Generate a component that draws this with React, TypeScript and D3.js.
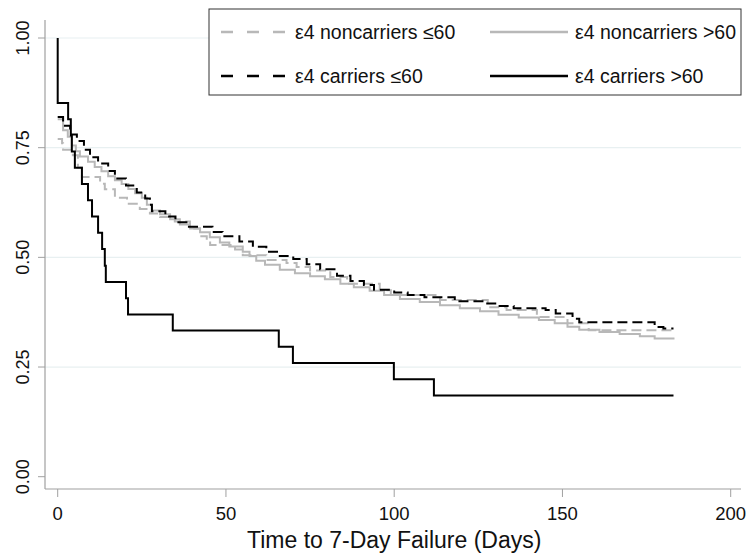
import * as d3 from "d3";
import React from "react";

// Kaplan-Meier steps: time (days) and survival
const carrOldT = [0, 0, 3.1, 3.9, 4.2, 5.1, 7.2, 9.0, 10.2, 12.0, 13.2, 14.0, 14.3, 20.3, 20.9, 34.2, 65.7, 69.9, 99.9, 111.8, 183];
const carrOldS = [1.0, 0.852, 0.815, 0.778, 0.741, 0.704, 0.667, 0.63, 0.593, 0.556, 0.519, 0.481, 0.444, 0.407, 0.37, 0.333, 0.296, 0.259, 0.222, 0.185, 0.185];

const carrYoungT = [0, 1.6, 3.7, 5.7, 7.8, 9.6, 12, 15, 17, 20.3, 23.5, 26, 27.4, 28, 32, 35, 39, 46, 49, 54, 58, 62, 66, 70, 74, 78, 83, 87, 91, 94, 100, 104, 109, 118, 127, 131, 135.5, 145, 148, 153, 155, 177.4, 180, 183];
const carrYoungS = [0.82, 0.8, 0.78, 0.765, 0.745, 0.728, 0.714, 0.697, 0.68, 0.664, 0.648, 0.634, 0.62, 0.605, 0.593, 0.58, 0.57, 0.558, 0.548, 0.536, 0.524, 0.513, 0.503, 0.496, 0.484, 0.473, 0.458, 0.446, 0.437, 0.426, 0.42, 0.414, 0.409, 0.4, 0.395, 0.389, 0.384, 0.38, 0.372, 0.36, 0.352, 0.341, 0.338, 0.338];

const nonOldT = [0, 1.6, 3, 4.2, 5.4, 6.6, 9, 11, 13, 15, 17, 19, 21, 23, 25, 26.5, 28, 30.4, 33.4, 36.3, 39.3, 42.3, 45.2, 48.2, 51, 55, 57, 59, 61.6, 66, 70.5, 75, 79.4, 84, 88, 92.7, 97, 101.7, 107.6, 113.6, 119.5, 125.5, 131, 137, 143, 147.7, 151.5, 155, 161, 167, 173, 177.4, 183];
const nonOldS = [0.815, 0.79, 0.775, 0.755, 0.742, 0.73, 0.718, 0.706, 0.696, 0.685, 0.676, 0.667, 0.656, 0.646, 0.636, 0.62, 0.607, 0.598, 0.587, 0.575, 0.566, 0.557, 0.546, 0.534, 0.525, 0.513, 0.503, 0.492, 0.483, 0.472, 0.464, 0.457, 0.45, 0.44, 0.432, 0.424, 0.414, 0.405, 0.398, 0.391, 0.384, 0.377, 0.369, 0.363, 0.357, 0.35, 0.342, 0.335, 0.33, 0.325, 0.32, 0.315, 0.313];

const nonYoungT = [0, 1.3, 1.6, 4.5, 6, 7.2, 12.6, 14, 17, 20.6, 24.4, 27.4, 30.4, 34.8, 39.3, 42.3, 44.3, 45.3, 52.7, 55, 62, 68, 71, 75, 81, 86, 95.7, 99, 113.6, 127.8, 133.4, 142.4, 151.5, 157.8, 183];
const nonYoungS = [0.77, 0.76, 0.745, 0.733, 0.705, 0.683, 0.668, 0.655, 0.636, 0.622, 0.61, 0.6, 0.592, 0.582, 0.566, 0.548, 0.538, 0.528, 0.518, 0.505, 0.494, 0.487, 0.478, 0.47, 0.455, 0.44, 0.425, 0.414, 0.403, 0.386, 0.38, 0.364, 0.35, 0.334, 0.332];

const xTicks = [0, 50, 100, 150, 200];
const yTicks = [0, 0.25, 0.5, 0.75, 1];
const gridTicks = [0.25, 0.5, 0.75, 1];

const GRAY = "#b8b8b8";
const FONT = "'Liberation Sans', Arial, Helvetica, sans-serif";

const series = [
  { t: nonYoungT, s: nonYoungS, color: GRAY, dash: "10,5", label: "ε4 noncarriers ≤60" },
  { t: nonOldT, s: nonOldS, color: GRAY, dash: "none", label: "ε4 noncarriers >60" },
  { t: carrYoungT, s: carrYoungS, color: "#000", dash: "10,5", label: "ε4 carriers ≤60" },
  { t: carrOldT, s: carrOldS, color: "#000", dash: "none", label: "ε4 carriers >60" },
];

export default function App() {
  const width = 747;
  const height = 555;

  const x = d3.scaleLinear().domain([0, 200]).range([57.7, 730.7]);
  const y = d3.scaleLinear().domain([0, 1]).range([476.7, 38]);

  const line = d3
    .line<[number, number]>()
    .x(d => x(d[0]))
    .y(d => y(d[1]))
    .curve(d3.curveStepAfter);

  const axisLeft = 45;
  const axisBottom = 489;
  const plotRight = 741;

  // legend layout
  const legend = { x0: 209, y0: 9, x1: 741, y1: 95 };
  const rows = [32, 76];
  const cols = [{ l0: 221, l1: 291, tx: 295 }, { l0: 490, l1: 568, tx: 575 }];

  return (
    <svg width={width} height={height} style={{ position: "absolute", left: 0, top: 0, background: "#fff" }}>
      <rect x={0} y={0} width={width} height={height} fill="#fff" />
      {gridTicks.map(v => (
        <line key={v} x1={axisLeft} x2={plotRight} y1={y(v)} y2={y(v)} stroke="#e8f0f1" strokeWidth={1.2} />
      ))}

      {/* axes */}
      <line x1={axisLeft} x2={axisLeft} y1={20} y2={axisBottom} stroke="#a0a0a0" strokeWidth={1.2} />
      <line x1={axisLeft} x2={plotRight} y1={axisBottom} y2={axisBottom} stroke="#a0a0a0" strokeWidth={1.2} />
      {yTicks.map(v => (
        <g key={v}>
          <line x1={38} x2={axisLeft} y1={y(v)} y2={y(v)} stroke="#a0a0a0" strokeWidth={1} />
          <text
            transform={`translate(29,${y(v)}) rotate(-90)`}
            textAnchor="middle"
            fontFamily={FONT}
            fontSize={18}
            fill="#111"
          >
            {d3.format(".2f")(v)}
          </text>
        </g>
      ))}
      {xTicks.map(v => (
        <g key={v}>
          <line x1={x(v)} x2={x(v)} y1={axisBottom} y2={497} stroke="#a0a0a0" strokeWidth={1} />
          <text x={x(v)} y={520} textAnchor="middle" fontFamily={FONT} fontSize={18.5} fill="#111">
            {v}
          </text>
        </g>
      ))}
      <text x={x(100)} y={548} textAnchor="middle" fontFamily={FONT} fontSize={23} fill="#111">
        Time to 7-Day Failure (Days)
      </text>

      {/* curves */}
      {series.map(sr => (
        <path
          key={sr.label}
          d={line(sr.t.map((t, i) => [t, sr.s[i]] as [number, number])) ?? ""}
          fill="none"
          stroke={sr.color}
          strokeWidth={2}
          strokeDasharray={sr.dash}
        />
      ))}

      {/* legend */}
      <rect
        x={legend.x0}
        y={legend.y0}
        width={legend.x1 - legend.x0}
        height={legend.y1 - legend.y0}
        fill="#fff"
        stroke="#333"
        strokeWidth={1}
      />
      {series.map((sr, i) => {
        const r = rows[Math.floor(i / 2)];
        const c = cols[i % 2];
        return (
          <g key={sr.label}>
            <line
              x1={c.l0}
              x2={c.l1}
              y1={r}
              y2={r}
              stroke={sr.color}
              strokeWidth={2.5}
              strokeDasharray={sr.dash === "none" ? "none" : "12,14"}
            />
            <text x={c.tx} y={r + 6.5} fontFamily={FONT} fontSize={19.5} fill="#111">
              {sr.label}
            </text>
          </g>
        );
      })}
    </svg>
  );
}
